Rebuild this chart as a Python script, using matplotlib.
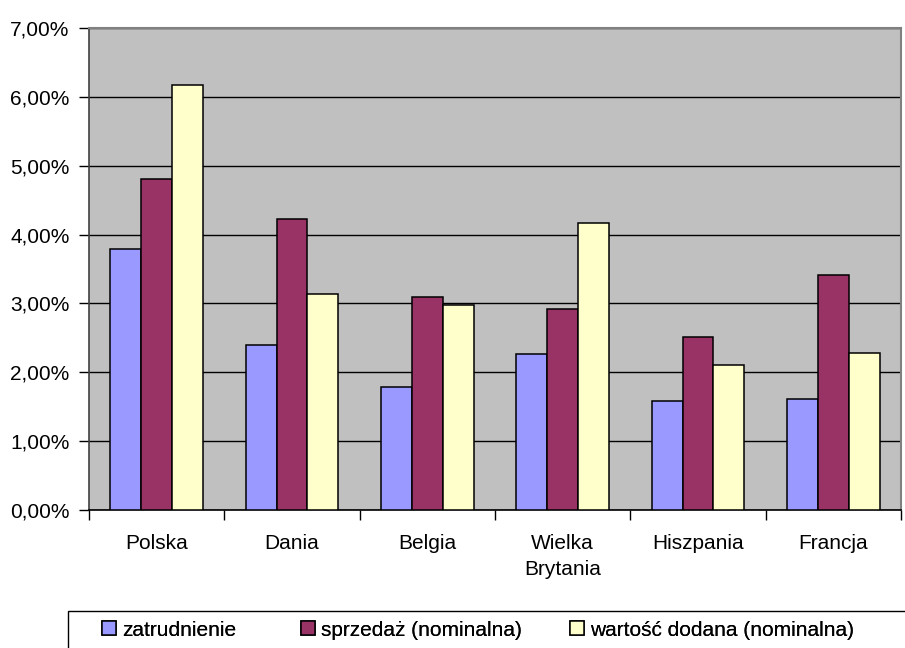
import matplotlib
matplotlib.use("Agg")
import matplotlib.pyplot as plt
from matplotlib.patches import Rectangle
from matplotlib.ticker import FuncFormatter
import numpy as np

plt.rcParams['font.family'] = ['Liberation Sans', 'DejaVu Sans']

categories = ["Polska", "Dania", "Belgia", "Wielka\nBrytania", "Hiszpania", "Francja"]
series_names = ["zatrudnienie", "sprzedaż (nominalna)", "wartość dodana (nominalna)"]
zatrudnienie = [3.79, 2.40, 1.79, 2.26, 1.58, 1.61]
sprzedaz = [4.81, 4.23, 3.09, 2.92, 2.51, 3.41]
wartosc = [6.17, 3.13, 2.98, 4.17, 2.11, 2.28]
colors = ["#9999FF", "#993366", "#FFFFCC"]
yticks = [0, 1, 2, 3, 4, 5, 6, 7]

fig = plt.figure(figsize=(9.05, 6.48), dpi=100)
ax = fig.add_axes([89/905, 1-510/648, (901-89)/905, (510-28)/648])
ax.set_facecolor("#C0C0C0")

x = np.arange(len(categories))
w = 0.229
handles = []
for i, (vals, name, c) in enumerate(zip([zatrudnienie, sprzedaz, wartosc], series_names, colors)):
    h = ax.bar(x + (i - 1) * w, vals, width=w, color=c, edgecolor="black", linewidth=1.1, label=name, zorder=3)
    handles.append(h)

ax.set_xlim(-0.5, len(categories) - 0.5)
ax.set_ylim(0, 7)
ax.set_yticks(yticks)
ax.yaxis.set_major_formatter(FuncFormatter(lambda v, p: f"{v:.2f}%".replace(".", ",")))
ax.grid(axis="y", color="black", linewidth=1.0, zorder=1)
ax.set_axisbelow(True)

ax.set_xticks(np.arange(len(categories) + 1) - 0.5)
ax.set_xticklabels([])
ax.set_xticks(x, minor=True)
ax.set_xticklabels(categories, minor=True, fontsize=15, linespacing=1.5)
ax.tick_params(axis="x", which="minor", length=0, pad=17)
ax.tick_params(axis="x", which="major", length=7, width=1, color="black", direction="out")
ax.tick_params(axis="y", length=7, width=1, color="black", direction="out", labelsize=15, pad=7)

for s in ["top", "right"]:
    ax.spines[s].set_color("#808080")
    ax.spines[s].set_linewidth(1.5)
ax.spines["left"].set_color("#404040")
ax.spines["bottom"].set_color("black")
ax.spines["left"].set_linewidth(1.2)
ax.spines["bottom"].set_linewidth(1.2)

# legend frame (extends past figure edge like the reference)
fig.patches.append(Rectangle((68/905, -0.05), 1.0, 0.05 + (648-611)/648, transform=fig.transFigure,
                             facecolor="white", edgecolor="black", linewidth=1.0, zorder=0))
legend_x = [102, 301, 570]
for h, name, lx in zip(handles, series_names, legend_x):
    leg = fig.legend(handles=[h], labels=[name], loc="center left",
                     bbox_to_anchor=(lx/905, 1-630/648), frameon=False, fontsize=15,
                     handlelength=0.65, handleheight=0.65, handletextpad=0.3,
                     borderaxespad=0, borderpad=0)
    fig.add_artist(leg)

fig.savefig("out.png", dpi=100)
